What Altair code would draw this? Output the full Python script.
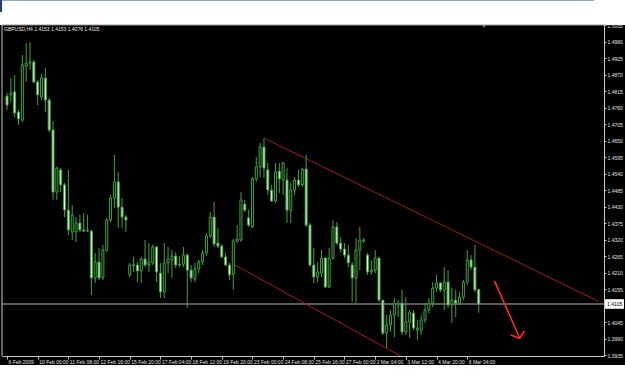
import altair as alt
import pandas as pd

# ---- candle data (GBPUSD H4) ----
opens = [
    1.4798, 1.4802, 1.4812, 1.4745, 1.4718, 1.4898, 1.4908, 1.4912, 1.4845, 1.4795,
    1.4858, 1.4785, 1.4685, 1.4478, 1.4552, 1.4502, 1.4418, 1.4345, 1.4345, 1.4375,
    1.4352, 1.4348, 1.4348, 1.4192, 1.4245, 1.4192, 1.4285, 1.4385, 1.4458, 1.4512,
    1.4428, 1.4395, 1.4202, 1.4233, 1.4235, 1.4215, 1.4255, 1.4235, 1.4242, 1.4295,
    1.4208, 1.4145, 1.4242, 1.4252, 1.4265, 1.4235, 1.4238, 1.4268, 1.4218, 1.4188,
    1.4222, 1.4245, 1.4275, 1.4332, 1.4395, 1.4308, 1.4298, 1.4262, 1.4235, 1.4205,
    1.4315, 1.4318, 1.4438, 1.4392, 1.4362, 1.4522, 1.4562, 1.4628, 1.4552, 1.4485,
    1.4448, 1.4548, 1.4518, 1.4518, 1.4418, 1.4485, 1.4518, 1.4502, 1.4555, 1.4368,
    1.4235, 1.4195, 1.4208, 1.4258, 1.4162, 1.4258, 1.4362, 1.4308, 1.4288, 1.4268,
    1.4235, 1.4192, 1.4285, 1.4315, 1.4268, 1.4212, 1.4218, 1.4258, 1.4118, 1.4008,
    1.4035, 1.4068, 1.4102, 1.4108, 1.4012, 1.4045, 1.4075, 1.4018, 1.4018, 1.4052,
    1.4085, 1.4108, 1.4158, 1.4175, 1.4152, 1.4178, 1.4102, 1.4118, 1.4108, 1.4128,
    1.4178, 1.4252, 1.4228, 1.4153]

highs = [
    1.4808, 1.4858, 1.4868, 1.4752, 1.4935, 1.4975, 1.4978, 1.4918, 1.4852, 1.4872,
    1.4892, 1.4792, 1.4715, 1.4562, 1.4558, 1.4508, 1.4552, 1.4435, 1.4395, 1.4402,
    1.4408, 1.4402, 1.4352, 1.4275, 1.4292, 1.4302, 1.4392, 1.4468, 1.4602, 1.4545,
    1.4458, 1.4402, 1.4242, 1.4262, 1.4245, 1.4262, 1.4318, 1.4308, 1.4302, 1.4298,
    1.4242, 1.4308, 1.4295, 1.4285, 1.4278, 1.4265, 1.4295, 1.4275, 1.4235, 1.4242,
    1.4252, 1.4285, 1.4342, 1.4412, 1.4445, 1.4358, 1.4305, 1.4275, 1.4242, 1.4322,
    1.4368, 1.4478, 1.4452, 1.4418, 1.4528, 1.4595, 1.4642, 1.4658, 1.4575, 1.4502,
    1.4575, 1.4575, 1.4578, 1.4558, 1.4512, 1.4528, 1.4552, 1.4558, 1.4602, 1.4375,
    1.4292, 1.4245, 1.4285, 1.4262, 1.4292, 1.4385, 1.4378, 1.4328, 1.4308, 1.4302,
    1.4245, 1.4325, 1.4362, 1.4325, 1.4275, 1.4252, 1.4285, 1.4262, 1.4118, 1.4068,
    1.4085, 1.4125, 1.4118, 1.4152, 1.4128, 1.4085, 1.4085, 1.4052, 1.4068, 1.4108,
    1.4125, 1.4178, 1.4202, 1.4178, 1.4228, 1.4218, 1.4158, 1.4152, 1.4145, 1.4185,
    1.4285, 1.4268, 1.4302, 1.4153]

lows = [
    1.4752, 1.4778, 1.4728, 1.4702, 1.4712, 1.4845, 1.4885, 1.4842, 1.4768, 1.4785,
    1.4745, 1.4678, 1.4452, 1.4452, 1.4478, 1.4395, 1.4335, 1.4318, 1.4312, 1.4345,
    1.4345, 1.4345, 1.4135, 1.4175, 1.4185, 1.4185, 1.4278, 1.4378, 1.4425, 1.4358,
    1.4358, 1.4345, 1.4195, 1.4212, 1.4178, 1.4175, 1.4228, 1.4212, 1.4235, 1.4178,
    1.4125, 1.4125, 1.4208, 1.4192, 1.4225, 1.4228, 1.4228, 1.4092, 1.4178, 1.4178,
    1.4208, 1.4235, 1.4265, 1.4325, 1.4295, 1.4292, 1.4258, 1.4232, 1.4185, 1.4152,
    1.4308, 1.4312, 1.4412, 1.4362, 1.4358, 1.4512, 1.4528, 1.4525, 1.4468, 1.4445,
    1.4442, 1.4475, 1.4468, 1.4375, 1.4375, 1.4468, 1.4495, 1.4495, 1.4362, 1.4228,
    1.4175, 1.4178, 1.4195, 1.4158, 1.4158, 1.4252, 1.4302, 1.4278, 1.4258, 1.4228,
    1.4112, 1.4108, 1.4218, 1.4308, 1.4202, 1.4202, 1.4208, 1.4112, 1.4002, 1.3958,
    1.4012, 1.3995, 1.4062, 1.4002, 1.4002, 1.3992, 1.4018, 1.3985, 1.4002, 1.4042,
    1.4075, 1.4095, 1.4145, 1.4145, 1.4085, 1.4092, 1.4042, 1.4062, 1.4102, 1.4118,
    1.4168, 1.4218, 1.4145, 1.4076]

closes = [
    1.4768, 1.4808, 1.4742, 1.4722, 1.4902, 1.4908, 1.4912, 1.4845, 1.4802, 1.4858,
    1.4785, 1.4685, 1.4478, 1.4558, 1.4502, 1.4418, 1.4352, 1.4402, 1.4375, 1.4352,
    1.4348, 1.4350, 1.4192, 1.4245, 1.4192, 1.4285, 1.4385, 1.4458, 1.4512, 1.4428,
    1.4395, 1.4385, 1.4235, 1.4236, 1.4215, 1.4255, 1.4235, 1.4245, 1.4295, 1.4212,
    1.4145, 1.4242, 1.4255, 1.4265, 1.4235, 1.4237, 1.4268, 1.4218, 1.4192, 1.4222,
    1.4245, 1.4275, 1.4332, 1.4395, 1.4305, 1.4298, 1.4262, 1.4235, 1.4202, 1.4315,
    1.4322, 1.4452, 1.4418, 1.4368, 1.4522, 1.4562, 1.4628, 1.4558, 1.4485, 1.4448,
    1.4545, 1.4522, 1.4575, 1.4418, 1.4485, 1.4518, 1.4502, 1.4555, 1.4368, 1.4235,
    1.4195, 1.4212, 1.4258, 1.4162, 1.4258, 1.4362, 1.4308, 1.4288, 1.4268, 1.4242,
    1.4192, 1.4285, 1.4318, 1.4318, 1.4212, 1.4218, 1.4258, 1.4118, 1.4008, 1.4035,
    1.4068, 1.4108, 1.4108, 1.4012, 1.4045, 1.4078, 1.4025, 1.4025, 1.4052, 1.4085,
    1.4108, 1.4158, 1.4175, 1.4152, 1.4178, 1.4102, 1.4118, 1.4108, 1.4128, 1.4178,
    1.4252, 1.4228, 1.4152, 1.4105]

# time-axis labels (every 8th H4 bar)
date_label_bars = [0, 8, 16, 24, 32, 40, 48, 56, 64, 72, 80, 88, 96, 104, 112, 120]
date_labels = ["6 Feb 2009", "10 Feb 00:00", "11 Feb 08:00", "12 Feb 16:00",
               "15 Feb 20:00", "17 Feb 04:00", "18 Feb 12:00", "19 Feb 20:00",
               "23 Feb 00:00", "24 Feb 08:00", "25 Feb 16:00", "27 Feb 00:00",
               "2 Mar 04:00", "3 Mar 12:00", "4 Mar 20:00", "6 Mar 04:00"]

# price-axis labels
price_ticks = [1.5035, 1.4980, 1.4925, 1.4870, 1.4815, 1.4760, 1.4705, 1.4650,
               1.4595, 1.4540, 1.4485, 1.4430, 1.4375, 1.4320, 1.4265, 1.4210,
               1.4155, 1.4045, 1.3990, 1.3935]

last_price = 1.4105
title_text = "GBPUSD,H4  1.4153 1.4153 1.4076 1.4105"

# channel lines (bar index, price)
upper_x = [67, 154.36]
upper_y = [1.4658, 1.4113]
lower_x = [58.7, 102.6]
lower_y = [1.4240, 1.3932]

# red arrow
arrow_x = [127.1, 133.7, 131.3, 133.7, 134.9]
arrow_y = [1.4182, 1.3991, 1.4002, 1.3991, 1.4015]
arrow_part = ["shaft", "shaft", "head", "head", "head"]
arrow_order = [0, 1, 0, 1, 2]

# ---- build tables ----
df = pd.DataFrame({"bar": list(range(len(opens))), "open": opens, "high": highs,
                   "low": lows, "close": closes})
df["kind"] = ["bull" if c > o else "bear" for o, c in zip(opens, closes)]

X_DOMAIN = [0, 154.36]
Y_DOMAIN = [1.393167, 1.5035]
xs = alt.Scale(domain=X_DOMAIN, nice=False, zero=False)
ys = alt.Scale(domain=Y_DOMAIN, nice=False, zero=False)

GREEN = "#3fa33f"
BEAR_FILL = "#dcf7d6"
AXIS_COL = "#c8c8c8"
FONT = "Liberation Sans"

x_axis = alt.Axis(values=date_label_bars,
                  labelExpr="[" + ",".join(f"'{s}'" for s in date_labels)
                  + "][indexof(" + str(date_label_bars) + ", datum.value)]",
                  orient="bottom", labelAlign="left", labelBaseline="top",
                  labelFontSize=5, labelFont=FONT, labelColor="#e0e0e0",
                  tickColor=AXIS_COL, tickSize=3, domainColor=AXIS_COL,
                  labelPadding=0, labelOffset=1, grid=False, title=None,
                  labelOverlap=False, labelFlush=False, zindex=1)
y_axis = alt.Axis(orient="right", values=price_ticks, format=".4f",
                  labelFontSize=5, labelFont=FONT, labelColor="#e0e0e0",
                  tickColor=AXIS_COL, tickSize=2, domainColor=AXIS_COL,
                  labelPadding=1, grid=False, title=None,
                  labelOverlap=False, labelFlush=False, zindex=1)

one = pd.DataFrame({"a": [0]})

# black chart window (decoration)
bg = alt.Chart(one).mark_rect(color="black").encode(
    x=alt.value(-2), x2=alt.value(623), y=alt.value(0), y2=alt.value(340))
topline = alt.Chart(one).mark_rule(color="#8da6d4", strokeWidth=1).encode(
    x=alt.value(-2), x2=alt.value(592), y=alt.value(-24.5))
topmark = alt.Chart(one).mark_rect(color="#1f3d94").encode(
    x=alt.value(-2), x2=alt.value(0), y=alt.value(-25), y2=alt.value(-13))
topborder = alt.Chart(one).mark_rule(color="#9a9a9a", strokeWidth=1).encode(
    x=alt.value(0), x2=alt.value(604), y=alt.value(0))
leftborder = alt.Chart(one).mark_rule(color=AXIS_COL, strokeWidth=1).encode(
    x=alt.value(0), y=alt.value(0), y2=alt.value(331))
shift_marker = alt.Chart(one).mark_point(shape="triangle-down", filled=True,
                                          color="#a0a0a0", size=14).encode(
    x=alt.value(482), y=alt.value(1.5))

price_line = alt.Chart(pd.DataFrame({"p": [last_price]})).mark_rule(
    color="#b4b4b4", strokeWidth=1).encode(
    y=alt.Y("p:Q", scale=ys, axis=y_axis), x=alt.value(0), x2=alt.value(602))

upper = alt.Chart(pd.DataFrame({"x": upper_x, "y": upper_y})).mark_line(
    color="#a8181a", strokeWidth=1, clip=True).encode(
    x=alt.X("x:Q", scale=xs, axis=x_axis), y=alt.Y("y:Q", scale=ys, axis=y_axis))
lower = alt.Chart(pd.DataFrame({"x": lower_x, "y": lower_y})).mark_line(
    color="#a8181a", strokeWidth=1, clip=True).encode(
    x=alt.X("x:Q", scale=xs, axis=x_axis), y=alt.Y("y:Q", scale=ys, axis=y_axis))

wicks = alt.Chart(df).mark_rule(color=GREEN, strokeWidth=1).encode(
    x=alt.X("bar:Q", scale=xs, axis=x_axis),
    y=alt.Y("low:Q", scale=ys, axis=y_axis),
    y2="high:Q")

bodies = alt.Chart(df).mark_bar(size=2, strokeWidth=1, stroke=GREEN).encode(
    x=alt.X("bar:Q", scale=xs, axis=x_axis),
    y=alt.Y("open:Q", scale=ys, axis=y_axis),
    y2="close:Q",
    fill=alt.condition(alt.datum.kind == "bull", alt.value("black"),
                       alt.value(BEAR_FILL)))

arrow = alt.Chart(pd.DataFrame({"x": arrow_x, "y": arrow_y, "part": arrow_part,
                                "o": arrow_order})).mark_line(
    color="#ff2a2a", strokeWidth=1.6).encode(
    x=alt.X("x:Q", scale=xs, axis=x_axis), y=alt.Y("y:Q", scale=ys, axis=y_axis),
    detail="part:N", order="o:Q")

title = alt.Chart(one).mark_text(text=title_text, align="left", baseline="middle",
                                 fontSize=5, font=FONT, color="#e8e8e8").encode(
    x=alt.value(2), y=alt.value(4))

box = alt.Chart(pd.DataFrame({"t": [last_price + 0.0016], "b": [last_price - 0.0016]})
                ).mark_rect(color="white").encode(
    y=alt.Y("t:Q", scale=ys, axis=y_axis), y2="b:Q",
    x=alt.value(603), x2=alt.value(622))
box_text = alt.Chart(pd.DataFrame({"p": [last_price]})).mark_text(
    align="left", baseline="middle", fontSize=5, font=FONT, color="black").encode(
    y=alt.Y("p:Q", scale=ys, axis=y_axis), x=alt.value(605),
    text=alt.Text("p:Q", format=".4f"))

chart = alt.layer(
    bg, topline, topmark, topborder, leftborder, shift_marker, price_line,
    upper, lower, wicks, bodies, arrow, title, box, box_text
).properties(
    width=602, height=331,
    padding={"left": 2, "top": 25, "right": 21, "bottom": 35},
    autosize=alt.AutoSizeParams(type="none"),
    background="white",
).configure_view(stroke=None)

chart.save("out.html", embed_options={"renderer": "svg", "actions": False})
